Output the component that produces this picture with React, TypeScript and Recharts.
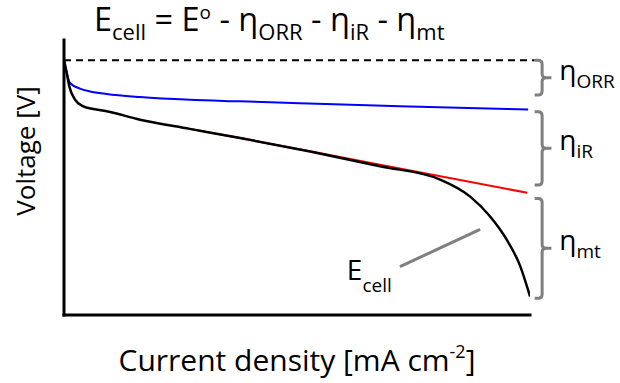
import { LineChart, Line, XAxis, YAxis, ReferenceLine } from 'recharts'

// current density (arbitrary units, 0-100) and voltage (E° = 1)
const E0 = 1.0

const kineticX = [0, 0.58, 1.29, 3.43, 5.58, 9.16, 16.3, 27.0, 37.8, 50.6, 72.1, 99.6]
const kineticV = [1.0, 0.951, 0.911, 0.889, 0.878, 0.868, 0.856, 0.845, 0.839, 0.832, 0.82, 0.807]

const ohmicX = [27.0, 37.8, 52.8, 67.8, 99.4]
const ohmicV = [0.731, 0.695, 0.643, 0.59, 0.48]

const cellX = [0, 0.58, 1.14, 2.36, 4.14, 6.29, 9.16, 16.3, 27.0, 37.8, 52.8, 67.8, 80.7, 87.1, 91.4, 95.0, 97.9, 100]
const cellV = [1.0, 0.951, 0.898, 0.846, 0.819, 0.809, 0.8, 0.767, 0.731, 0.695, 0.642, 0.584, 0.532, 0.466, 0.388, 0.296, 0.192, 0.073]

// overpotential brackets: [top, bottom] in volts
const brackets = [
  { sub: 'ORR', top: 1.0, bottom: 0.864 },
  { sub: 'iR', top: 0.798, bottom: 0.511 },
  { sub: 'mt', top: 0.458, bottom: 0.066 },
]

const W = 620
const H = 383
const AXIS_W = 4
const M = { top: 40, right: 90, bottom: 68 - AXIS_W, left: 64 - AXIS_W }
const X_MAX = 100
const Y_MAX = 1.08
const FONT = "'Open Sans', sans-serif"
const GREY = '#7f7f7f'

const toRows = (xs: number[], vs: number[]) => xs.map((x, i) => ({ x, v: vs[i] }))

const plotL = M.left + AXIS_W
const plotW = W - plotL - M.right
const plotH = H - M.top - M.bottom - AXIS_W
const sx = (x: number) => plotL + (x / X_MAX) * plotW
const sy = (v: number) => M.top + plotH - (v / Y_MAX) * plotH

function Bracket({ top, bottom, sub }: { top: number; bottom: number; sub: string }) {
  const y1 = sy(top)
  const y2 = sy(bottom)
  const mid = (y1 + y2) / 2
  const xl = sx(101)
  const xv = sx(102.6)
  const xt = sx(104.6)
  const r = 4
  const d =
    `M${xl},${y1} H${xv - r} Q${xv},${y1} ${xv},${y1 + r} V${mid - r} Q${xv},${mid} ${xv + r},${mid} H${xt} ` +
    `M${xv + r},${mid} Q${xv},${mid} ${xv},${mid + r} V${y2 - r} Q${xv},${y2} ${xv - r},${y2} H${xl}`
  return (
    <g>
      <path d={d} fill="none" stroke={GREY} strokeWidth={3} />
      <text x={sx(106.3)} y={mid + 2} fontSize={28} fontFamily={FONT} fill="#000">
        η<tspan fontSize={19} dy={8}>{sub}</tspan>
      </text>
    </g>
  )
}

export default function App() {
  return (
    <div style={{ position: 'absolute', left: 0, top: 0, width: W, height: H, background: '#fff' }}>
      <LineChart width={W} height={H} margin={M}>
        <XAxis
          type="number"
          dataKey="x"
          domain={[0, X_MAX]}
          allowDataOverflow
          tick={false}
          tickLine={false}
          height={AXIS_W}
          axisLine={{ stroke: '#000', strokeWidth: 3, strokeLinecap: 'square' }}
        />
        <YAxis
          type="number"
          domain={[0, Y_MAX]}
          allowDataOverflow
          tick={false}
          tickLine={false}
          width={AXIS_W}
          axisLine={{ stroke: '#000', strokeWidth: 3, strokeLinecap: 'square' }}
        />
        <ReferenceLine
          segment={[{ x: 0, y: E0 }, { x: 101, y: E0 }]}
          stroke="#000"
          strokeWidth={2}
          strokeDasharray="7 5"
          ifOverflow="visible"
        />
        <Line data={toRows(kineticX, kineticV)} dataKey="v" type="monotone" stroke="#0000ff" strokeWidth={2} dot={false} isAnimationActive={false} />
        <Line data={toRows(ohmicX, ohmicV)} dataKey="v" type="linear" stroke="#ff0000" strokeWidth={2} dot={false} isAnimationActive={false} />
        <Line data={toRows(cellX, cellV)} dataKey="v" type="monotone" stroke="#000" strokeWidth={2.5} dot={false} isAnimationActive={false} />
      </LineChart>

      <svg width={W} height={H} style={{ position: 'absolute', left: 0, top: 0, pointerEvents: 'none' }}>
        <text x={94} y={31} fontSize={32.5} fontFamily={FONT} fill="#000">
          E<tspan fontSize={22} dy={9}>cell</tspan>
          <tspan dy={-9}>{' = E'}</tspan>
          <tspan fontSize={19} dy={-12}>o</tspan>
          <tspan dy={12}>{' - η'}</tspan>
          <tspan fontSize={22} dy={9}>ORR</tspan>
          <tspan dy={-9}>{' - η'}</tspan>
          <tspan fontSize={22} dy={9}>iR</tspan>
          <tspan dy={-9}>{' - η'}</tspan>
          <tspan fontSize={22} dy={9}>mt</tspan>
        </text>

        <text transform="translate(35,151) rotate(-90)" textAnchor="middle" fontSize={26} fontFamily={FONT} fill="#000">
          Voltage [V]
        </text>

        <text x={297} y={371} textAnchor="middle" fontSize={30} fontFamily={FONT} fill="#000">
          Current density [mA cm<tspan fontSize={18} dy={-13}>-2</tspan>
          <tspan dy={13}>]</tspan>
        </text>

        {brackets.map(b => (
          <Bracket key={b.sub} {...b} />
        ))}

        <line x1={sx(72.1)} y1={sy(0.19)} x2={sx(89.3)} y2={sy(0.336)} stroke={GREY} strokeWidth={3} />
        <text x={sx(60.7)} y={sy(0.139)} fontSize={28} fontFamily={FONT} fill="#000">
          E<tspan fontSize={19} dy={12}>cell</tspan>
        </text>
      </svg>
    </div>
  )
}
